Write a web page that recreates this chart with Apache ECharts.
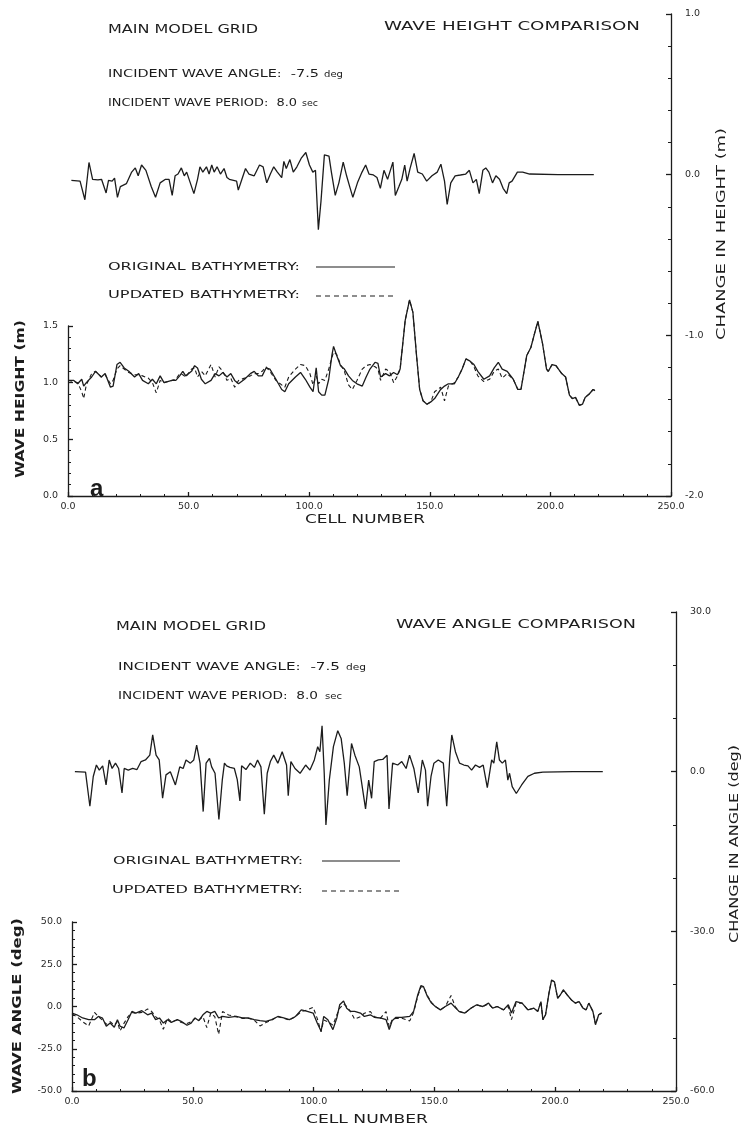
<!DOCTYPE html>
<html>
<head>
<meta charset="utf-8">
<script src="https://cdn.jsdelivr.net/npm/echarts@6/dist/echarts.min.js"></script>
<style>
html,body{margin:0;padding:0;background:#fff;}
#c{width:745px;height:1134px;}
</style>
</head>
<body>
<div id="c"></div>
<script>
// ---------- DATA ----------
// Panel a: wave height (m) vs cell number
const cellsH = [0,2.4,4,5.7,6.5,7.6,9.8,11.4,13.8,15.4,17.6,18.7,20.3,21.6,23.3,25.2,27.6,29.3,30.9,33.3,35,36.6,38.2,39.8,43.1,44.7,46.3,47.6,48.8,51.2,52.5,53.7,55.3,56.9,59.3,61,62.6,64.2,65.9,67.5,69.1,70.7,73.2,75.6,77.2,78.9,80.5,82.1,83.7,86.2,88.6,89.9,91.5,94.3,96.4,98.4,100.3,101.6,102.9,103.9,105.2,106.5,108.1,109.4,110.1,111.4,113,114.6,116.3,117.9,119.8,122,123.6,125.2,127.3,128.5,129.6,131.7,133.3,135,136.6,137.7,139.8,141.6,143,144.5,145.8,147.2,148.8,150.4,152,154.5,156.1,157.7,160.2,161.8,163.4,165,166.7,168.3,169.9,172.4,174.8,176.7,178.4,180,182.1,184.6,186.5,187.8,190.2,191.9,193.5,194.8,196.7,198.4,199.1,200.7,202.3,204.7,206.3,207.9,209.1,210.4,212,213.3,214.4,216.1,217.7,218.5];
const waveHeightOriginal = [1.02,1.02,0.99,1.03,0.97,1.00,1.05,1.10,1.05,1.08,0.96,0.97,1.16,1.18,1.13,1.10,1.05,1.08,1.02,0.99,1.03,0.99,1.06,1.00,1.02,1.02,1.06,1.10,1.06,1.10,1.15,1.13,1.03,0.99,1.02,1.08,1.06,1.09,1.05,1.08,1.02,0.99,1.03,1.08,1.10,1.06,1.06,1.13,1.12,1.03,0.94,0.92,0.99,1.05,1.09,1.03,0.96,0.92,1.13,0.92,0.89,0.89,1.03,1.24,1.32,1.24,1.15,1.12,1.06,1.02,0.99,0.97,1.05,1.12,1.18,1.17,1.05,1.08,1.06,1.09,1.07,1.12,1.55,1.73,1.62,1.24,0.94,0.84,0.81,0.83,0.86,0.94,0.97,0.99,0.99,1.05,1.12,1.21,1.19,1.16,1.10,1.03,1.06,1.13,1.18,1.12,1.10,1.03,0.94,0.94,1.24,1.31,1.44,1.54,1.35,1.12,1.10,1.16,1.15,1.08,1.05,0.89,0.86,0.87,0.80,0.81,0.87,0.90,0.94,0.93];
const waveHeightUpdated = [1.00,1.01,1.00,0.92,0.86,0.98,1.08,1.10,1.05,1.07,0.99,1.02,1.12,1.15,1.12,1.09,1.07,1.07,1.06,1.04,1.00,0.91,1.02,1.00,1.02,1.03,1.08,1.07,1.05,1.12,1.13,1.05,1.10,1.06,1.16,1.05,1.14,1.10,1.02,1.04,0.96,1.02,1.04,1.06,1.08,1.08,1.10,1.14,1.10,1.02,0.98,0.96,1.05,1.12,1.16,1.15,1.08,0.98,1.06,0.99,1.03,1.02,1.12,1.22,1.27,1.25,1.16,1.10,0.98,0.94,1.02,1.12,1.15,1.16,1.14,1.12,1.02,1.12,1.10,1.00,1.06,1.12,1.55,1.73,1.62,1.24,0.94,0.84,0.81,0.83,0.92,0.96,0.84,0.97,1.00,1.05,1.12,1.21,1.19,1.14,1.06,1.01,1.03,1.10,1.12,1.04,1.08,1.03,0.94,0.94,1.24,1.31,1.44,1.54,1.35,1.12,1.10,1.16,1.15,1.08,1.05,0.89,0.86,0.87,0.80,0.81,0.87,0.90,0.94,0.93];
// Change in height (m), right axis
const cellsHChange = [1.4,5,7,8.7,10.2,12.4,13.9,15.8,16.8,18.3,19.3,20.5,21.7,24.2,26.4,27.9,29.1,30.5,32.3,34.5,36.3,38.2,40.4,41.9,43.2,44.4,45.6,47,48.2,49.2,52.2,53.7,54.7,55.9,57.4,58.5,59.6,60.6,61.8,63.2,64.7,65.9,66.9,67.7,69.9,70.6,72.1,73.6,75,77.2,79.4,80.9,82.4,83.9,85.3,86.8,88.6,89.5,90.5,92,93.4,94.9,96.8,98.6,100.1,101.5,102.6,103.8,104.9,106.3,108.2,109.2,110.8,112.3,114.1,115.5,117,118.1,120,121.9,123.4,124.8,126.6,128.1,129.5,131,132.5,134.7,135.7,137.2,138.4,139.6,140.6,141.8,143.5,145,146.9,148.7,150.9,153.1,154.6,156.1,157.2,158.7,160.5,162.7,164.9,166.4,167.9,169.3,170.5,172,173.2,174.5,176,177.4,178.9,180.4,181.9,182.9,184.1,186.3,188.5,191.4,203.2,218];
const heightChange = [-0.036,-0.040,-0.156,0.076,-0.029,-0.033,-0.029,-0.114,-0.036,-0.040,-0.022,-0.141,-0.074,-0.056,0.016,0.042,-0.007,0.060,0.027,-0.074,-0.141,-0.051,-0.029,-0.029,-0.129,-0.007,0.004,0.042,-0.007,0.016,-0.118,-0.029,0.049,0.016,0.049,0.004,0.060,0.016,0.049,0.004,0.038,-0.018,-0.029,-0.040,-0.040,-0.096,-0.029,0.038,0.004,-0.007,0.060,0.049,-0.051,0.004,0.049,0.016,-0.018,0.083,0.038,0.094,0.016,0.049,0.105,0.138,0.060,0.016,0.027,-0.342,-0.163,0.123,0.116,0.016,-0.129,-0.051,0.078,-0.007,-0.085,-0.141,-0.051,0.016,0.060,0.004,-0.002,-0.018,-0.085,0.027,-0.029,0.078,-0.129,-0.074,-0.029,0.060,-0.040,0.038,0.132,0.016,0.004,-0.040,-0.007,0.016,0.065,-0.040,-0.185,-0.051,-0.007,-0.002,0.004,0.027,-0.051,-0.029,-0.118,0.027,0.042,0.016,-0.051,-0.007,-0.029,-0.085,-0.118,-0.051,-0.040,0.016,0.016,0.004,0,0];

// Panel b: wave angle (deg) vs cell number
const cellsA = [0,2,4.4,6.9,9.3,10.9,12.6,14.2,15.8,17.5,18.8,19.9,21.5,23.2,24.8,26.4,28.9,31.3,33,34.6,36.2,37.8,39.5,41.1,43.6,45.2,47.6,49.3,50.9,52.5,54.2,55.8,57.4,59.1,60.7,62.3,64.8,68,70.5,72.9,75.4,77.8,80.3,82.7,85.2,87.6,90,92.5,94.9,97.4,99.8,101.5,103.1,104.2,105.9,108,109.6,110.8,112.4,113.7,115.3,117,119.4,121,123.5,125.1,127.6,130,131.3,132.5,134.1,136.5,139.8,141.4,143.1,144.4,145.5,147.1,148.8,150.4,152.5,154.5,156.9,158.6,160.2,162.6,165.1,167.5,170,172.4,174.1,176,178.6,180.6,181.9,183.8,186.3,188.7,191.2,192.8,194.1,194.9,196,197.4,198.5,199.7,201,202.1,203.4,205,206.7,208.3,209.9,211.5,212.8,213.9,215.6,216.7,218,219.2];
const waveAngleOriginal = [-3.9,-4.9,-6.8,-7.8,-7.8,-5.9,-6.8,-11.7,-9.8,-12.3,-7.8,-11.7,-12.7,-7.8,-2.9,-3.9,-2.5,-4.9,-3.9,-7.8,-6.8,-9.8,-7.8,-9.4,-7.8,-8.8,-11.1,-9.8,-6.8,-8.4,-4.9,-2.9,-3.9,-2.9,-6.8,-5.9,-6.4,-5.9,-6.8,-6.8,-7.8,-8.4,-8.8,-7.8,-5.9,-6.8,-7.8,-5.9,-2.0,-2.9,-3.9,-9.8,-14.6,-5.9,-7.8,-13.7,-6.8,1.0,3.3,-1.0,-2.9,-2.9,-3.9,-5.9,-4.9,-6.4,-6.8,-7.8,-13.7,-8.4,-6.4,-6.4,-5.9,-2.9,6.8,12.3,11.7,5.9,2.0,0,-2.0,0,2.0,-0.6,-2.9,-3.9,-1.0,1.0,0,2.0,-1.0,0,-2.0,1.0,-3.9,2.9,2.0,-2.0,-1.0,-2.9,2.9,-7.8,-4.9,7.8,15.6,14.6,4.9,6.8,9.8,6.8,3.9,2.0,2.9,-1.0,-2.0,2.0,-2.9,-10.7,-4.9,-3.9];
const waveAngleUpdated = [-4.5,-6,-9,-11.5,-3.5,-6,-8,-10.5,-9,-11,-9,-14.5,-10,-6,-3.5,-4,-3.5,-1.5,-3,-6,-8,-13.5,-7,-9,-8,-9.5,-10,-9,-7,-8,-6,-12.5,-4,-6,-16.5,-3,-5,-6,-7,-7,-8,-11.5,-9.5,-8,-6,-7,-8,-6,-3,-2,-0.5,-7,-15,-8,-9,-11,-5,-1,1.5,0,-3,-7.5,-6,-4,-3,-6,-7,-3,-12,-8,-7,-7,-8.5,-3.5,6,11.5,11.5,6.5,2.5,0,-2,0,6.5,0,-3,-4,-1,1,0,1.5,-1,0,-2,0,-7.8,2,2.0,-2.0,-1.0,-2.9,2.9,-7.8,-4.9,7.8,15.6,14.6,4.9,6.8,9.8,6.8,3.9,2.0,2.9,-1.0,-2.0,2.0,-2.9,-10.7,-4.9,-3.9];
// Change in angle (deg), right axis
const cellsAChange = [1.2,5.6,7.4,8.8,10.1,11.3,12.7,14.1,15.4,16.6,18,19.3,20.7,21.6,23.3,25.1,26.9,28.6,30.4,32.2,33.4,34.8,36.1,37.5,38.9,40.7,42.8,44.6,46,47.2,49,50.4,51.6,53,54.3,55.5,56.9,57.8,59.2,60.8,62.2,63.1,64,65.4,67.2,68.4,69.5,70.2,72,73.8,75.5,76.8,78.2,79.6,80.8,82.1,83.5,85.2,87,88.8,89.5,90.6,92.3,94.4,96.7,98.5,100.3,101.7,102.6,103.5,104.4,105.1,106.5,108.2,110,111.4,112.7,113.9,115.7,117.1,118.9,121.5,122.8,124,125.1,126.8,128.6,130.4,131.2,132.7,134.8,136.5,138.3,139.7,141.5,143.3,145,146.3,147.2,148.6,149.8,151.6,153.7,155.1,156.4,157.2,158.7,160.4,162.2,163.9,165.4,167,168.7,170.2,171.9,173.7,174.6,175.8,176.9,178.1,179.4,180.4,181.1,182.2,183.9,186.1,188.7,191.4,194.9,207.3,219.7];
const angleChange = [0,-0.1,-6.5,-0.9,1.25,0.3,1.1,-2.5,2.2,0.6,1.6,0.6,-4.0,0.6,0.3,0.6,0.4,1.9,2.2,3.1,6.9,3.1,2.2,-5.0,-0.6,0,-2.5,0.9,0.6,2.2,1.6,2.2,5.0,1.6,-7.5,1.6,2.5,0.9,-0.3,-9.0,-1.6,1.6,1.1,0.8,0.6,-1.5,-5.5,1.1,0.4,1.6,0.8,2.2,0.9,-8.0,-0.3,1.9,3.1,1.6,3.75,1.25,-4.5,1.9,0.6,-0.3,1.25,0.3,2.2,4.7,3.75,8.6,-0.3,-10.0,-1.6,4.7,7.7,6.25,1.6,-4.5,5.3,3.1,0.9,-7.0,-1.6,-5.0,1.9,2.2,2.3,3.1,-7.0,1.6,1.25,1.9,0.6,3.1,0.6,-4.0,2.2,0.3,-6.5,-0.9,1.6,2.2,1.6,-6.5,2.8,6.9,3.75,1.6,1.25,1.1,0.3,1.25,0.8,1.25,-3.0,2.2,1.6,5.6,2.2,1.6,2.2,-1.6,-0.3,-2.8,-4.1,-2.5,-0.9,-0.3,-0.1,0,0];

// Tick settings
const cellTicks = {min: 0, max: 250, interval: 50};
const heightTicks = {min: 0, max: 1.5, interval: 0.5};
const heightChangeTicks = {min: -2, max: 1, interval: 1};
const angleTicks = {min: -50, max: 50, interval: 25};
const angleChangeTicks = {min: -60, max: 30, interval: 30};

// ---------- RENDERING ----------
const TXT_FONT = 'DejaVu Sans';
const LBL_FONT = 'DejaVu Sans';
const INK = '#1c1c1c';
const zip = (xs, ys) => xs.map((x, i) => [x, ys[i]]);
const fmt1 = v => v.toFixed(1);

const measCtx = document.createElement('canvas').getContext('2d');
function measure(str, size, bold){
  measCtx.font = (bold ? 'bold ' : 'normal ') + size + 'px "' + TXT_FONT + '"';
  return measCtx.measureText(str).width;
}
function tstyle(str, size, bold, align){
  return {text:str, fontFamily:TXT_FONT, fontSize:size, fontWeight: bold ? 'bold' : 'normal',
    fill:INK, align:align, verticalAlign:'middle', textAlign:align, textVerticalAlign:'middle'};
}
function htext(str, x1, x2, y, size, bold){
  const w = measure(str, size, bold);
  return {type:'text', x:x1, y:y, scaleX:(x2-x1)/w, silent:true, style:tstyle(str, size, bold, 'left')};
}
function vtext(str, cx, yBottom, yTop, size, bold){
  const w = measure(str, size, bold);
  return {type:'text', x:cx, y:(yBottom+yTop)/2, rotation:Math.PI/2, scaleX:(yBottom-yTop)/w, silent:true,
    style:tstyle(str, size, bold, 'center')};
}
function legLine(x1, x2, y, dashed){
  return {type:'line', silent:true, shape:{x1:x1, y1:y, x2:x2, y2:y},
    style:{stroke:INK, lineWidth:1.2, lineDash: dashed ? [5,4] : null}};
}

const axisLineStyle = {color: INK, width: 1.3};
const labelStyle = {fontFamily: LBL_FONT, fontSize: 9.5, color: '#2a2a2a'};

function xAxisCfg(grid, show){
  return Object.assign({type:'value', gridIndex:grid, show:show, position:'bottom'}, cellTicks, {
    axisLine:{show:true, onZero:false, lineStyle:axisLineStyle},
    axisTick:{show:true, inside:true, length:4, lineStyle:axisLineStyle},
    minorTick:{show:true, splitNumber:5, length:2, lineStyle:{color:INK, width:1}},
    axisLabel:Object.assign({formatter:fmt1, margin:6}, labelStyle),
    splitLine:{show:false}
  });
}
function yAxisCfg(grid, pos, ticks, minorSplit, margin){
  return Object.assign({type:'value', gridIndex:grid, position:pos}, ticks, {
    axisLine:{show:true, onZero:false, lineStyle:axisLineStyle},
    axisTick:{show:true, inside:true, length:5, lineStyle:axisLineStyle},
    minorTick:{show:true, splitNumber:minorSplit, length:3, lineStyle:{color:INK, width:1}},
    axisLabel:Object.assign({formatter:fmt1, margin:margin}, labelStyle),
    splitLine:{show:false}
  });
}
function lineSeries(xi, yi, data, dashed, width){
  return {type:'line', xAxisIndex:xi, yAxisIndex:yi, data:data, symbol:'none', smooth:false, clip:false,
    lineStyle:{color:INK, width:width, type: dashed ? [4,3] : 'solid'}, silent:true};
}

const chart = echarts.init(document.getElementById('c'), null, {renderer:'canvas'});
chart.setOption({
  animation:false,
  backgroundColor:'#ffffff',
  grid:[
    {left:68, top:14, width:603, height:482, outerBoundsMode:'none'},
    {left:68, top:326, width:603, height:170, outerBoundsMode:'none'},
    {left:72, top:612, width:604, height:479, outerBoundsMode:'none'},
    {left:72, top:922, width:604, height:169, outerBoundsMode:'none'}
  ],
  xAxis:[xAxisCfg(0,false), xAxisCfg(1,true), xAxisCfg(2,false), xAxisCfg(3,true)],
  yAxis:[
    yAxisCfg(0,'right',heightChangeTicks,5,14),
    yAxisCfg(1,'left',heightTicks,5,10),
    yAxisCfg(2,'right',angleChangeTicks,3,14),
    yAxisCfg(3,'left',angleTicks,5,10)
  ],
  series:[
    lineSeries(0,0,zip(cellsHChange,heightChange),false,1.3),
    lineSeries(1,1,zip(cellsH,waveHeightUpdated),true,1.1),
    lineSeries(1,1,zip(cellsH,waveHeightOriginal),false,1.3),
    lineSeries(2,2,zip(cellsAChange,angleChange),false,1.3),
    lineSeries(3,3,zip(cellsA,waveAngleUpdated),true,1.1),
    lineSeries(3,3,zip(cellsA,waveAngleOriginal),false,1.3)
  ],
  graphic:[
    // panel a
    htext('MAIN MODEL GRID',108,258,30,13,false),
    htext('WAVE HEIGHT COMPARISON',384,640,27,13,false),
    htext('INCIDENT WAVE ANGLE:  -7.5',108,319,74,11,false),
    htext('deg',324,343,75,8.5,false),
    htext('INCIDENT WAVE PERIOD:  8.0',108,297,103,11,false),
    htext('sec',302,318,104,8.5,false),
    htext('ORIGINAL BATHYMETRY:',108,300,267,11,false),
    legLine(316,395,267,false),
    htext('UPDATED BATHYMETRY:',108,300,295,11,false),
    legLine(316,397,296,true),
    vtext('WAVE HEIGHT (m)',21,478,320,13,true),
    vtext('CHANGE IN HEIGHT (m)',722,340,128,12,false),
    htext('CELL NUMBER',305,425,520,12,false),
    {type:'text', x:90, y:489, silent:true, style:{text:'a', fontFamily:'Liberation Sans', fontSize:24, fontWeight:'bold', fill:INK, textAlign:'left', textVerticalAlign:'middle'}},
    // panel b
    htext('MAIN MODEL GRID',116,266,627,13,false),
    htext('WAVE ANGLE COMPARISON',396,636,625,13,false),
    htext('INCIDENT WAVE ANGLE:  -7.5',118,340,667,11,false),
    htext('deg',346,366,668,8.5,false),
    htext('INCIDENT WAVE PERIOD:  8.0',118,318,696,11,false),
    htext('sec',325,342,697,8.5,false),
    htext('ORIGINAL BATHYMETRY:',113,303,861,11,false),
    legLine(322,400,861,false),
    htext('UPDATED BATHYMETRY:',112,303,890,11,false),
    legLine(322,402,891,true),
    vtext('WAVE ANGLE (deg)',18,1094,918,12.5,true),
    vtext('CHANGE IN ANGLE (deg)',735,943,745,12,false),
    htext('CELL NUMBER',306,428,1120,12,false),
    {type:'text', x:82, y:1079, silent:true, style:{text:'b', fontFamily:'Liberation Sans', fontSize:24, fontWeight:'bold', fill:INK, textAlign:'left', textVerticalAlign:'middle'}}
  ]
});
</script>
</body>
</html>
